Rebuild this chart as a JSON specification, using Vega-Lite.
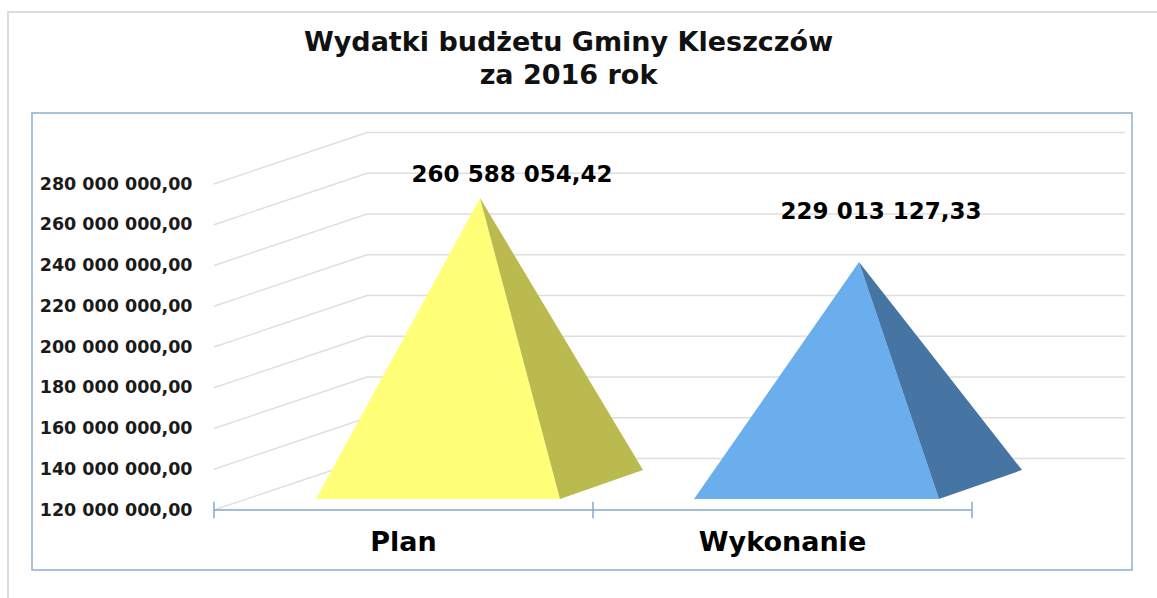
{
"$schema":"https://vega.github.io/schema/vega-lite/v6.json",
"width":1157,"height":598,"padding":0,"autosize":{"type":"none"},
"background":"white",
"config":{"view":{"stroke":null},"locale":{"number":{"decimal":",","thousands":" ","grouping":[3],"currency":["",""]}}},
"title":{"text":["Wydatki budżetu Gminy Kleszczów","za 2016 rok"],"anchor":"middle","frame":"group","dx":-10,"offset":-90,"fontSize":27,"font":"DejaVu Sans","fontWeight":"bold","color":"#111111","lineHeight":33},
"datasets":{
"walls":[
{"level":120000000,"x":0,"y":120000000},{"level":120000000,"x":0.40369,"y":145250000},{"level":120000000,"x":2.40369,"y":145250000},
{"level":140000000,"x":0,"y":140000000},{"level":140000000,"x":0.40369,"y":165250000},{"level":140000000,"x":2.40369,"y":165250000},
{"level":160000000,"x":0,"y":160000000},{"level":160000000,"x":0.40369,"y":185250000},{"level":160000000,"x":2.40369,"y":185250000},
{"level":180000000,"x":0,"y":180000000},{"level":180000000,"x":0.40369,"y":205250000},{"level":180000000,"x":2.40369,"y":205250000},
{"level":200000000,"x":0,"y":200000000},{"level":200000000,"x":0.40369,"y":225250000},{"level":200000000,"x":2.40369,"y":225250000},
{"level":220000000,"x":0,"y":220000000},{"level":220000000,"x":0.40369,"y":245250000},{"level":220000000,"x":2.40369,"y":245250000},
{"level":240000000,"x":0,"y":240000000},{"level":240000000,"x":0.40369,"y":265250000},{"level":240000000,"x":2.40369,"y":265250000},
{"level":260000000,"x":0,"y":260000000},{"level":260000000,"x":0.40369,"y":285250000},{"level":260000000,"x":2.40369,"y":285250000},
{"level":280000000,"x":0,"y":280000000},{"level":280000000,"x":0.40369,"y":305250000},{"level":280000000,"x":2.40369,"y":305250000}
],
"faces":[
{"face":"Plan front","x":0.26913,"y":125400000,"y2":125400000},
{"face":"Plan front","x":0.70185,"y":273130000,"y2":125400000},
{"face":"Plan front","x":0.91293,"y":125400000,"y2":125400000},
{"face":"Plan side","x":0.70185,"y":273130000,"y2":273130000},
{"face":"Plan side","x":0.91293,"y":207610000,"y2":125400000},
{"face":"Plan side","x":1.13193,"y":139630000,"y2":139630000},
{"face":"Wykonanie front","x":1.26649,"y":125400000,"y2":125400000},
{"face":"Wykonanie front","x":1.70185,"y":241720000,"y2":125400000},
{"face":"Wykonanie front","x":1.91293,"y":125400000,"y2":125400000},
{"face":"Wykonanie side","x":1.70185,"y":241720000,"y2":241720000},
{"face":"Wykonanie side","x":1.91293,"y":191600000,"y2":125400000},
{"face":"Wykonanie side","x":2.13193,"y":139630000,"y2":139630000}
],
"axisLine":[{"x":0,"y":120000000},{"x":2,"y":120000000}],
"axisTicks":[{"x":0,"y":124000000,"y2":115900000},{"x":1,"y":124000000,"y2":115900000},{"x":2,"y":124000000,"y2":115900000}],
"categories":[{"name":"Plan","x":0.5,"y":103800000},{"name":"Wykonanie","x":1.5,"y":103800000}],
"values":[{"name":"Plan","value":260588054.42,"x":0.7863,"y":284400000},{"name":"Wykonanie","value":229013127.33,"x":1.7599,"y":266200000}],
"frame":[{"x":-0.48021,"x2":2.42216,"y":314850000,"y2":90550000}],
"outer":[{"i":0,"x":2.48813,"y":364420000},{"i":1,"x":-0.54354,"y":364420000},{"i":2,"x":-0.54354,"y":76810000}]
},
"layer":[
{"data":{"name":"frame"},"mark":{"type":"rect","fill":null,"stroke":"#8FB0CC","strokeWidth":1.5},
 "encoding":{
 "x":{"field":"x","type":"quantitative","scale":{"domain":[-0.56464,2.48813],"nice":false,"zero":false},"axis":null},
 "x2":{"field":"x2"},
 "y":{"field":"y","type":"quantitative","scale":{"domain":[76810000,370307000],"nice":false,"zero":false},
   "axis":{"orient":"left","offset":-192,"values":[120000000,140000000,160000000,180000000,200000000,220000000,240000000,260000000,280000000],"format":",.2f","domain":false,"ticks":false,"grid":false,"labelPadding":0,"title":null,"labelFont":"DejaVu Sans","labelFontWeight":"bold","labelFontSize":17.5,"labelColor":"#1a1a1a"}},
 "y2":{"field":"y2"}}},
{"data":{"name":"outer"},"mark":{"type":"line","stroke":"#DCDCDC","strokeWidth":2},
 "encoding":{"x":{"field":"x","type":"quantitative"},"y":{"field":"y","type":"quantitative"},"order":{"field":"i","type":"quantitative"}}},
{"data":{"name":"walls"},"mark":{"type":"line","stroke":"#DEDEDE","strokeWidth":1.4},
 "encoding":{"x":{"field":"x","type":"quantitative"},"y":{"field":"y","type":"quantitative"},"detail":{"field":"level"}}},
{"data":{"name":"axisLine"},"mark":{"type":"line","stroke":"#86A9CA","strokeWidth":1.5},
 "encoding":{"x":{"field":"x","type":"quantitative"},"y":{"field":"y","type":"quantitative"}}},
{"data":{"name":"axisTicks"},"mark":{"type":"rule","stroke":"#86A9CA","strokeWidth":1.5},
 "encoding":{"x":{"field":"x","type":"quantitative"},"y":{"field":"y","type":"quantitative"},"y2":{"field":"y2"}}},
{"data":{"name":"faces"},"mark":{"type":"area","interpolate":"linear"},
 "encoding":{"x":{"field":"x","type":"quantitative"},"y":{"field":"y","type":"quantitative","stack":null},"y2":{"field":"y2"},
 "color":{"field":"face","type":"nominal","legend":null,"scale":{"domain":["Plan front","Plan side","Wykonanie front","Wykonanie side"],"range":["#FFFF78","#BABA4E","#6BAEEE","#4775A3"]}}}},
{"data":{"name":"categories"},"mark":{"type":"text","font":"DejaVu Sans","fontWeight":"bold","fontSize":27,"color":"#000000","baseline":"middle","align":"center"},
 "encoding":{"x":{"field":"x","type":"quantitative"},"y":{"field":"y","type":"quantitative"},"text":{"field":"name"}}},
{"data":{"name":"values"},"mark":{"type":"text","font":"DejaVu Sans","fontWeight":"bold","fontSize":23,"color":"#000000","baseline":"middle","align":"center"},
 "encoding":{"x":{"field":"x","type":"quantitative"},"y":{"field":"y","type":"quantitative"},"text":{"field":"value","type":"quantitative","format":",.2f"}}}
]
}
